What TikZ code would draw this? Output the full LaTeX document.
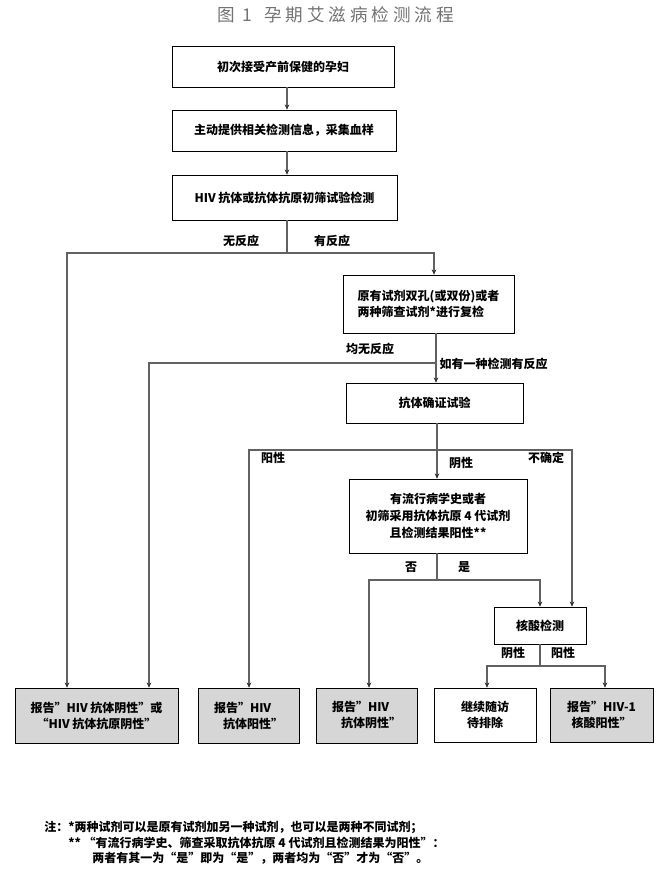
\documentclass[tikz,border=0pt]{standalone}
\usepackage{fontspec}
\setmainfont{Noto Sans CJK SC}
\newfontfamily\titlefont[LetterSpace=22]{Noto Sans CJK SC}
\usetikzlibrary{arrows.meta}
\usetikzlibrary{positioning}
\tikzset{stage/.style={rectangle,draw=black,fill=white,align=center,inner sep=2pt,font=\bfseries\fontsize{9}{12}\selectfont}}
\tikzset{report/.style={stage,fill=black!16}}
\tikzset{branch/.style={inner sep=1pt,font=\bfseries\fontsize{9}{11}\selectfont}}
\tikzset{note/.style={anchor=west,inner sep=0pt,font=\bfseries\fontsize{9}{10}\selectfont}}
\tikzset{link/.style={draw=black!62,line width=0.9pt}}
\tikzset{flow/.style={link,-{Stealth[length=4pt,width=3.5pt,color=black!80]}}}

\begin{document}
\begin{tikzpicture}[x=0.75pt,y=-0.75pt]
    \useasboundingbox (0,0) rectangle (664,869);
    \node[text=black!55, font={\titlefont\fontsize{13.2}{15}\selectfont}] (title) at (335.5,15) {图 1\hspace{9pt}孕期艾滋病检测流程};
    % main column
    \node[stage, minimum width=166.5pt, minimum height=30.75pt] (first) at (283,66.5) {初次接受产前保健的孕妇};
    \node[stage, minimum width=168pt, minimum height=30.75pt] (inform) at (284,130.5) {主动提供相关检测信息，采集血样};
    \node[stage, minimum width=168.75pt, minimum height=33.75pt] (screen) at (284.5,197.5) {HIV 抗体或抗体抗原初筛试验检测};
    \node[stage, align=left, minimum width=128.25pt, minimum height=43.5pt] (recheck) at (428.5,304) {原有试剂双孔(或双份)或者\\两种筛查试剂*进行复检};
    \node[stage, minimum width=132.75pt, minimum height=30pt] (confirm) at (434.5,403) {抗体确证试验};
    \node[stage, minimum width=133.5pt, minimum height=55.5pt, font=\bfseries\fontsize{9}{13}\selectfont] (epi) at (438,516) {有流行病学史或者\\初筛采用抗体抗原 4 代试剂\\且检测结果阳性**};
    \node[stage, minimum width=69pt, minimum height=27.75pt] (nat) at (540,625.5) {核酸检测};
    % results
    \node[report, minimum width=122.25pt, minimum height=41.25pt] (rep1) at (96.5,715.5) {报告”HIV 抗体阴性”或\\“HIV 抗体抗原阴性”};
    \node[report, align=left, minimum width=75.75pt, minimum height=41.25pt] (rep2) at (248.5,715.5) {报告”HIV\\\hspace{0.75em}抗体阳性”};
    \node[report, align=left, minimum width=75.75pt, minimum height=41.25pt] (rep3) at (366.5,715.5) {报告”HIV\\\hspace{0.75em}抗体阴性”};
    \node[stage, minimum width=76.5pt, minimum height=40.5pt] (follow) at (485,715) {继续随访\\待排除};
    \node[report, minimum width=77.25pt, minimum height=40.5pt] (rep4) at (601.5,715) {报告”HIV-1\\核酸阳性”};
    % split points
    \coordinate (sj) at (287,253);
    \coordinate (sl) at (67,253);
    \coordinate (sr) at (434,253);
    \coordinate (rj) at (436,363);
    \coordinate (rl) at (149,363);
    \coordinate (cj) at (437,450);
    \coordinate (cl) at (249,450);
    \coordinate (cr) at (572,450);
    \coordinate (ej) at (437,580);
    \coordinate (el) at (369,580);
    \coordinate (er) at (540,580);
    \coordinate (nj) at (540,666);
    \coordinate (nl) at (487,666);
    \coordinate (nr) at (605,666);
    % branch labels
    \node[branch] (noreact) at (241,241) {无反应};
    \node[branch] (react) at (332,241) {有反应};
    \node[branch] (allno) at (370,349) {均无反应};
    \node[branch, anchor=west] (anyyes) at (438,364) {如有一种检测有反应};
    \node[branch] (cpos) at (273,458) {阳性};
    \node[branch] (cneg) at (461,463) {阴性};
    \node[branch] (cunk) at (546,458) {不确定};
    \node[branch] (eno) at (411,567) {否};
    \node[branch] (eyes) at (464,567) {是};
    \node[branch] (nneg) at (513,653) {阴性};
    \node[branch] (npos) at (563,653) {阳性};
    % notes
    \node[note] (note1) at (44,827) {注：*两种试剂可以是原有试剂加另一种试剂，也可以是两种不同试剂；};
    \node[note] (note2) at (68,843) {** “有流行病学史、筛查采取抗体抗原 4 代试剂且检测结果为阳性”：};
    \node[note] (note3) at (92,858) {两者有其一为“是”即为“是”，两者均为“否”才为“否”。};
\begin{scope}
    \draw[flow] (first.south -| sj) -- (inform.north -| sj);
    \draw[flow] (inform.south -| sj) -- (screen.north -| sj);
    \draw[link] (screen.south -| sj) -- (sj);
    \draw[flow] (sj) -- (sl) -- (rep1.north -| sl);
    \draw[flow] (sj) -- (sr) -- (recheck.north -| sr);
    \draw[flow] (recheck.south -| rj) -- (confirm.north -| rj);
    \draw[flow] (rj) -- (rl) -- (rep1.north -| rl);
    \draw[link] (confirm.south -| cj) -- (cj);
    \draw[flow] (cj) -- (cl) -- (rep2.north -| cl);
    \draw[flow] (cj) -- (epi.north -| cj);
    \draw[flow] (cj) -- (cr) -- (nat.north -| cr);
    \draw[link] (epi.south -| ej) -- (ej);
    \draw[flow] (ej) -- (el) -- (rep3.north -| el);
    \draw[flow] (ej) -- (er) -- (nat.north -| er);
    \draw[link] (nat.south -| nj) -- (nj);
    \draw[flow] (nj) -- (nl) -- (follow.north -| nl);
    \draw[flow] (nj) -- (nr) -- (rep4.north -| nr);
\end{scope}
\end{tikzpicture}
\end{document}
